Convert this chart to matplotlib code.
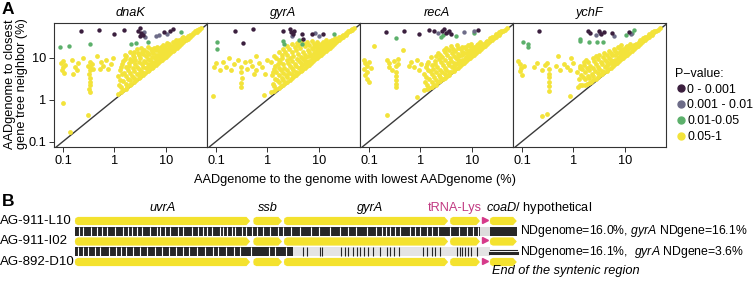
import matplotlib
matplotlib.use("Agg")
import matplotlib.pyplot as plt
import numpy as np
from matplotlib.lines import Line2D
from matplotlib.patches import Polygon, Rectangle

plt.rcParams["font.family"] = ["Liberation Sans", "DejaVu Sans"]
plt.rcParams["mathtext.fontset"] = "custom"
plt.rcParams["mathtext.rm"] = "Liberation Sans"
plt.rcParams["mathtext.it"] = "Liberation Sans:italic"

# ---------------- panel A data: (x, y) in % ----------------
PANELS = ["dnaK", "gyrA", "recA", "ychF"]
PVAL_LABELS = ["0 - 0.001", "0.001 - 0.01", "0.01-0.05", "0.05-1"]
PVAL_COLORS = ["#3b1f3e", "#6d6c88", "#5cb06b", "#f3e33a"]
TICKS = [0.1, 1, 10]
TICK_LABELS = ["0.1", "1", "10"]

dnak_p1 = [(0.22, 44), (0.51, 46), (1.0, 37), (1.55, 46), (2.9, 45), (3.1, 52), (3.3, 40),
           (3.6, 36), (3.2, 33), (9.3, 41), (14, 49), (12, 44)]
dnak_p2 = [(6.3, 33), (7.5, 36), (10.5, 38), (4.0, 31), (3.7, 41)]
dnak_p3 = [(0.086, 18), (0.134, 19), (0.34, 21.6), (2.14, 21.6), (2.6, 22.5), (4.4, 24), (20, 41)]
dnak_p4 = [(0.09, 7.5), (0.1, 6), (0.095, 5), (0.105, 4.3), (0.1, 8.3), (0.11, 6.8),
           (0.15, 9), (0.17, 6), (0.19, 5), (0.2, 7.5), (0.16, 4),
           (0.33, 8), (0.33, 6), (0.34, 5), (0.32, 4), (0.33, 3.3), (0.34, 2.7), (0.33, 2.2),
           (0.32, 1.8), (0.33, 1.5), (0.36, 7), (0.30, 6.5), (0.38, 5.5),
           (0.55, 8), (0.6, 6.5), (0.7, 9), (0.75, 5.5), (0.85, 7), (0.52, 5.5), (0.95, 10),
           (0.1, 0.85), (0.31, 0.42), (0.135, 0.17), (0.25, 10), (0.45, 11),
           (1.2, 1.4), (1.25, 2.3), (1.15, 3.6), (1.3, 5.2), (1.45, 1.7), (1.5, 2.8), (1.55, 4.4),
           (1.4, 7), (1.6, 9.5), (1.75, 2.0), (1.85, 3.1), (1.8, 5), (1.9, 7.5), (1.7, 11),
           (2.1, 2.4), (2.2, 3.6), (2.3, 5.6), (2.15, 8.5), (2.25, 12), (2.6, 2.9), (2.7, 4.1),
           (2.8, 6.2), (2.55, 9), (2.9, 13), (3.2, 3.5), (3.3, 4.9), (3.4, 7.1), (3.1, 10),
           (3.5, 14), (3.9, 4.3), (4.1, 5.6), (4.0, 7.8), (4.2, 11), (3.8, 15), (4.7, 5.1),
           (4.9, 6.6), (5.0, 8.8), (4.6, 12.5), (5.1, 16), (5.7, 6.2), (5.9, 7.6), (6.1, 9.8),
           (5.6, 13), (6.0, 17), (6.9, 7.5), (7.2, 9.1), (7.0, 11.5), (7.4, 14.5), (6.8, 18.5),
           (8.3, 9.0), (8.6, 10.6), (8.8, 13), (8.4, 16.5), (8.9, 20), (9.9, 10.7), (10.3, 12.6),
           (10.1, 15.2), (9.7, 19), (10.5, 23), (11.8, 12.8), (12.3, 15), (12.1, 18.3), (11.6, 22),
           (14.6, 15.8), (15.2, 18.2), (14.9, 21.5), (15.4, 26), (17.8, 19.4), (18.4, 22.3),
           (18.1, 27), (21.6, 23.3), (22.4, 27.5), (22, 32), (26.5, 28.7), (27.4, 33.5),
           (32.5, 35), (33.5, 40), (39.5, 42.5), (41, 47), (48, 51),
           (1.35, 1.55), (1.35, 2.0), (1.3, 3.0), (1.4, 4.0), (1.35, 6.0), (1.5, 8.2),
           (1.65, 1.85), (1.65, 2.4), (1.7, 3.6), (1.65, 6.2), (1.6, 12),
           (2.0, 2.2), (2.0, 2.9), (2.05, 4.3), (1.95, 6.5), (2.0, 9.5), (2.0, 13.5),
           (2.45, 2.7), (2.45, 3.3), (2.4, 4.8), (2.5, 7), (2.45, 10.5), (2.4, 14),
           (3.0, 3.25), (3.0, 4), (2.95, 5.3), (3.05, 8), (3.0, 11.5), (2.8, 16),
           (3.6, 3.9), (3.65, 4.4), (3.6, 6), (3.7, 8.6), (3.6, 12.5), (3.3, 17),
           (4.4, 4.75), (4.4, 6), (4.5, 7), (4.4, 9.5), (4.35, 13.5), (4.5, 18),
           (5.3, 5.7), (5.3, 7), (5.4, 8), (5.3, 10.7), (5.4, 14.5),
           (6.4, 6.9), (6.4, 8.3), (6.5, 10.5), (6.3, 12), (6.5, 15.5),
           (7.8, 8.4), (7.8, 9.8), (7.9, 12.3), (7.7, 15.5), (7.9, 18.5),
           (9.2, 9.9), (9.3, 11.5), (9.2, 13.8), (9.4, 17.5),
           (11, 11.8), (11, 13.6), (11.2, 16.5), (11, 20),
           (13.5, 14.4), (13.5, 16.5), (13.4, 19.5), (13.6, 23.5),
           (16.5, 17.6), (16.5, 20), (16.6, 24), (20, 21.3), (20, 24.5), (20.3, 29),
           (24.5, 26), (24.5, 30), (30, 31.8), (30, 36), (36, 38.5), (36.5, 43), (44, 46.5),
           (45, 50)]

gyra_p1 = [(0.23, 44), (0.53, 49), (0.34, 23), (2.05, 44.6), (2.7, 50), (2.9, 42), (3.1, 37),
           (3.3, 45), (4.6, 37), (5.0, 28), (7.5, 37), (12, 37)]
gyra_p2 = [(10, 33), (3.0, 33), (8.5, 40)]
gyra_p3 = [(0.107, 24), (0.107, 16), (2.05, 25.8), (2.1, 22), (4.2, 26), (4.6, 22), (20, 37)]
gyra_p4 = [(0.09, 6), (0.1, 7.5), (0.12, 5), (0.14, 8), (0.16, 6.2), (0.2, 5.2), (0.22, 7),
           (0.27, 9), (0.31, 6), (0.31, 4.5), (0.32, 3.3), (0.31, 2.5), (0.3, 2.0), (0.36, 7.8),
           (0.4, 5.5), (0.45, 8.5), (0.5, 6.5), (0.56, 4.2), (0.088, 1.2), (0.6, 5), (0.7, 7.5),
           (0.8, 6), (0.9, 4), (1.0, 9), (0.87, 1.27), (0.18, 10), (0.6, 11),
           (1.2, 1.5), (1.3, 2.4), (1.25, 3.8), (1.35, 5.5), (1.2, 8), (1.5, 1.8), (1.55, 3),
           (1.45, 4.6), (1.6, 7), (1.5, 10), (1.8, 2.1), (1.9, 3.3), (1.85, 5.2), (1.75, 8),
           (1.95, 12), (2.2, 2.5), (2.3, 3.8), (2.1, 5.8), (2.35, 9), (2.2, 14), (2.7, 3.0),
           (2.6, 4.4), (2.8, 6.5), (2.75, 10), (2.65, 16), (3.3, 3.6), (3.2, 5), (3.4, 7.3),
           (3.1, 11), (3.5, 18), (3.9, 4.3), (4.1, 5.8), (4.2, 8.2), (3.95, 12.5), (4.0, 20),
           (4.8, 5.2), (4.7, 6.8), (5.0, 9.2), (4.9, 14), (5.2, 22), (5.8, 6.3), (6.0, 7.9),
           (5.7, 10.5), (6.2, 15.5), (5.9, 24), (7.0, 7.6), (7.3, 9.5), (6.9, 12), (7.2, 17),
           (7.5, 25), (8.5, 9.2), (8.3, 11), (8.8, 14), (8.6, 19), (10.2, 11), (10.0, 13.5),
           (10.5, 16.5), (9.8, 21), (12.2, 13.2), (12.0, 16), (12.6, 19.5), (11.8, 24),
           (14.8, 16), (15.3, 19), (14.6, 23), (18, 19.5), (18.5, 23), (17.6, 27), (22, 24),
           (22.5, 28.5), (27, 29), (27.8, 33), (33, 35.5), (34, 40), (40, 43), (41.5, 47), (49, 52),
           (1.35, 1.6), (1.35, 2.1), (1.4, 3.2), (1.3, 4.6), (1.4, 6.5), (1.35, 11),
           (1.65, 1.9), (1.7, 2.6), (1.65, 3.8), (1.7, 5.8), (1.65, 9), (1.7, 14),
           (2.0, 2.2), (2.0, 2.9), (2.05, 4.3), (2.0, 7), (1.95, 10), (2.05, 16),
           (2.45, 2.7), (2.45, 3.4), (2.4, 5), (2.5, 7.5), (2.45, 12), (2.4, 19),
           (3.0, 3.3), (3.0, 4.1), (2.95, 5.8), (3.05, 8.5), (3.0, 13.5), (3.0, 21),
           (3.6, 3.9), (3.65, 4.6), (3.6, 6.5), (3.7, 9.5), (3.6, 15), (3.7, 23),
           (4.4, 4.75), (4.4, 6.2), (4.5, 7.5), (4.4, 10.5), (4.35, 17), (4.5, 25),
           (5.3, 5.7), (5.3, 7.3), (5.4, 8.5), (5.3, 12), (5.4, 19),
           (6.4, 6.9), (6.4, 8.6), (6.5, 11), (6.3, 13.5), (6.5, 20),
           (7.8, 8.4), (7.8, 10), (7.9, 13), (7.7, 16), (7.9, 22),
           (9.2, 9.9), (9.3, 12), (9.2, 15), (9.4, 18.5), (9.2, 24),
           (11, 11.8), (11, 14.5), (11.2, 18), (11, 22), (13.5, 14.4), (13.5, 17.5),
           (13.4, 21), (13.6, 26), (16.5, 17.6), (16.5, 21), (16.6, 25), (20, 21.3), (20, 25),
           (20.3, 30), (24.5, 26), (24.5, 31), (30, 31.8), (30, 36), (36, 38.5), (36.5, 43),
           (44, 46.5), (45, 50)]

reca_p1 = [(0.21, 41), (0.49, 43), (0.96, 38), (1.5, 46), (1.8, 44), (2.6, 44), (2.9, 48),
           (3.2, 40), (3.6, 43), (4.0, 37), (13, 46)]
reca_p2 = [(3.5, 41), (7.1, 41), (11, 43), (2.2, 40)]
reca_p3 = [(0.34, 29), (2.56, 31), (5.0, 33), (11, 39), (2.7, 36)]
reca_p4 = [(0.08, 9), (0.085, 7.5), (0.09, 6.5), (0.08, 5.5), (0.09, 4.6), (0.085, 3.8),
           (0.09, 3.1), (0.1, 2.7), (0.1, 8), (0.11, 5.8),
           (0.22, 9), (0.25, 7.5), (0.24, 6), (0.28, 5), (0.3, 8.5), (0.33, 6.5), (0.33, 4.5),
           (0.33, 3.6), (0.33, 2.9), (0.33, 2.4), (0.33, 2.0), (0.37, 7), (0.36, 9.5),
           (0.67, 8), (0.75, 6), (0.85, 9), (0.95, 5), (1.05, 7), (0.128, 19), (0.46, 15),
           (0.84, 1.18), (0.22, 0.42), (0.6, 6.5),
           (1.15, 1.7), (1.25, 2.6), (1.2, 4), (1.3, 6), (1.45, 1.9), (1.5, 3.1), (1.55, 4.8),
           (1.4, 8), (1.8, 2.2), (1.85, 3.4), (1.75, 5.4), (1.9, 8.5), (2.2, 2.6), (2.25, 3.9),
           (2.1, 6), (2.3, 9.5), (2.2, 13), (2.7, 3.1), (2.6, 4.6), (2.8, 6.8), (2.65, 10.5),
           (2.9, 15), (3.3, 3.7), (3.2, 5.2), (3.45, 7.6), (3.3, 11.5), (3.1, 17), (4.0, 4.5),
           (4.1, 6.1), (3.9, 8.6), (4.2, 13), (4.0, 19), (4.8, 5.3), (4.9, 7.1), (5.0, 9.8),
           (4.7, 14.5), (5.1, 20), (5.8, 6.4), (6.0, 8.2), (5.7, 11), (6.1, 16), (7.0, 7.7),
           (7.3, 9.6), (6.9, 12.8), (7.2, 18), (8.5, 9.3), (8.3, 11.2), (8.8, 14.2), (8.6, 20),
           (10.2, 11.1), (10.0, 13.5), (10.5, 17), (9.8, 22), (12.2, 13.3), (12.0, 16.2),
           (12.6, 20.5), (14.8, 16), (15.3, 19.5), (14.6, 24), (18, 19.6), (18.5, 23.5),
           (22, 24), (22.5, 29), (27, 29.2), (27.8, 34), (33, 35.5), (34, 41), (40, 43), (48, 51),
           (1.35, 1.8), (1.35, 2.2), (1.3, 3.4), (1.4, 5), (1.35, 7),
           (1.65, 2.0), (1.65, 2.6), (1.7, 4), (1.65, 6.8), (1.6, 10.5),
           (2.0, 2.3), (2.0, 3.0), (2.05, 4.6), (1.95, 7), (2.0, 11),
           (2.45, 2.75), (2.45, 3.4), (2.4, 5.2), (2.5, 8), (2.45, 12),
           (3.0, 3.3), (3.0, 4.2), (2.95, 5.8), (3.05, 8.8), (3.0, 13.5),
           (3.6, 3.95), (3.65, 4.7), (3.6, 6.6), (3.7, 9.8), (3.6, 15.5),
           (4.4, 4.8), (4.4, 6.3), (4.5, 7.6), (4.4, 11), (4.35, 16.5),
           (5.3, 5.75), (5.3, 7.4), (5.4, 8.8), (5.3, 12.5), (5.4, 17.5),
           (6.4, 6.95), (6.4, 8.8), (6.5, 11.5), (6.3, 14), (6.5, 18.5),
           (7.8, 8.45), (7.8, 10.2), (7.9, 13.3), (7.7, 16.5), (9.2, 9.95), (9.3, 12.2),
           (9.2, 15.5), (9.4, 19), (11, 11.8), (11, 14.5), (11.2, 18.5), (13.5, 14.5),
           (13.5, 17.5), (13.4, 21.5), (16.5, 17.7), (16.5, 21), (20, 21.4), (20, 25.5),
           (24.5, 26), (24.5, 31), (30, 31.8), (30, 37), (36, 38.5), (36.5, 44), (44, 46.5)]

ychf_p1 = [(0.21, 43), (1.95, 45), (2.1, 40), (3.1, 43), (3.5, 38), (3.9, 41), (5.5, 40),
           (12, 42)]
ychf_p2 = [(2.7, 36), (3.3, 40), (6.2, 34), (13, 38)]
ychf_p3 = [(0.107, 24), (0.134, 22), (0.134, 18), (1.37, 28), (1.37, 25), (2.0, 24),
           (2.9, 24), (3.8, 24), (10.7, 36), (13.5, 40), (15, 46)]
ychf_p4 = [(0.085, 8.5), (0.09, 7), (0.095, 5.8), (0.09, 4.8), (0.1, 3.9), (0.11, 6.5),
           (0.17, 6), (0.2, 7.5), (0.24, 5.2), (0.28, 6.8), (0.3, 7.7), (0.33, 5.5), (0.33, 4.2),
           (0.34, 3.4), (0.33, 2.7), (0.33, 2.1), (0.34, 1.6), (0.45, 6.5), (0.55, 5.2),
           (0.65, 7), (0.75, 6), (0.85, 5), (1.0, 7.5), (0.84, 1.2), (0.24, 0.4), (0.3, 0.45),
           (0.5, 11), (0.9, 10),
           (1.25, 2.0), (1.3, 3.1), (1.2, 4.6), (1.35, 6.5), (1.5, 2.2), (1.55, 3.5), (1.45, 5.4),
           (1.6, 8), (1.8, 2.4), (1.9, 3.7), (1.85, 5.8), (1.75, 9), (2.2, 2.7), (2.3, 4.2),
           (2.1, 6.5), (2.35, 10), (2.7, 3.2), (2.6, 4.8), (2.8, 7), (2.75, 11), (3.3, 3.8),
           (3.2, 5.4), (3.4, 8), (3.1, 12), (3.9, 4.5), (4.1, 6.2), (4.2, 9), (3.95, 13),
           (4.8, 5.4), (4.7, 7.2), (5.0, 10), (4.9, 14.5), (5.8, 6.4), (6.0, 8.3), (5.7, 11.5),
           (6.2, 16), (7.0, 7.7), (7.3, 9.8), (6.9, 13), (7.2, 18), (8.5, 9.3), (8.3, 11.5),
           (8.8, 15), (8.6, 20), (10.2, 11.2), (10.0, 14), (10.5, 18), (12.2, 13.3), (12.0, 17),
           (12.6, 22), (14.8, 16.2), (15.3, 20), (18, 19.6), (18.5, 24), (22, 24), (22.5, 29),
           (27, 29.3), (27.8, 34), (33, 35.6), (34, 41), (40, 43), (48, 51),
           (1.35, 2.3), (1.4, 3.9), (1.35, 5.6), (1.65, 2.3), (1.7, 3.1), (1.65, 4.6),
           (1.6, 6.8), (2.0, 2.5), (2.0, 3.3), (2.05, 5), (1.95, 7.8), (2.45, 2.9), (2.45, 3.7),
           (2.4, 5.6), (2.5, 8.5), (3.0, 3.4), (3.0, 4.4), (2.95, 6.2), (3.05, 9.5), (3.6, 4.0),
           (3.65, 4.9), (3.6, 7), (3.7, 10.5), (4.4, 4.85), (4.4, 6.6), (4.5, 8), (4.4, 11.5),
           (5.3, 5.8), (5.3, 7.6), (5.4, 9), (5.3, 13), (6.4, 7.0), (6.4, 9), (6.5, 11.8),
           (6.3, 14.5), (7.8, 8.5), (7.8, 10.5), (7.9, 13.5), (7.7, 17), (9.2, 10), (9.3, 12.5),
           (9.2, 16), (11, 11.9), (11, 15), (11.2, 19.5), (13.5, 14.5), (13.5, 18), (16.5, 17.8),
           (16.5, 22), (20, 21.5), (20, 26), (24.5, 26.2), (24.5, 31.5), (30, 32), (30, 37),
           (36, 38.7), (36.5, 44), (44, 46.5)]

panel_points = {
    "dnaK": [dnak_p1, dnak_p2, dnak_p3, dnak_p4],
    "gyrA": [gyra_p1, gyra_p2, gyra_p3, gyra_p4],
    "recA": [reca_p1, reca_p2, reca_p3, reca_p4],
    "ychF": [ychf_p1, ychf_p2, ychf_p3, ychf_p4],
}

# ---------------- panel B data: positions in kb ----------------
ROW_LABELS = ["AG-911-L10", "AG-911-I02", "AG-892-D10"]
GENE_NAMES = ["uvrA", "ssb", "gyrA", "", "coaD"]
GENE_START = [0.03, 2.94, 3.44, 6.15, 6.80]
GENE_END = [2.89, 3.41, 6.12, 6.64, 7.24]
TRNA_POS = 6.72
ALIGN_END = 7.24
# strip 1 (L10 vs I02): mismatch positions (white)
strip1_mism = [0.09, 0.17, 0.30, 0.39, 0.47, 0.55, 0.69, 0.82, 0.90, 0.96, 1.05, 1.12, 1.25,
               1.37, 1.42, 1.50, 1.58, 1.72, 1.80, 1.94, 2.04, 2.12, 2.18, 2.26, 2.40, 2.45,
               2.51, 2.59, 2.64, 2.75, 2.83, 2.92, 3.00, 3.10, 3.22, 3.35, 3.42, 3.55, 3.70,
               3.88, 4.02, 4.20, 4.35, 4.48, 4.62, 4.80, 4.95, 5.04, 5.10, 5.17, 5.25, 5.33,
               5.50, 5.58, 5.66, 5.78, 5.85, 5.95, 6.15, 6.30, 6.42, 6.52, 6.60]
strip1_gap = (6.64, 6.80)
# strip 2 (I02 vs D10): dark part mismatches, then divergent part with matching sites (dark)
strip2_dark_end = 3.59
strip2_mism = [0.08, 0.16, 0.24, 0.36, 0.44, 0.58, 0.70, 0.78, 0.86, 0.98, 1.10, 1.20, 1.33,
               1.45, 1.56, 1.68, 1.79, 1.90, 2.02, 2.15, 2.28, 2.36, 2.50, 2.62, 2.73, 2.90,
               3.20, 3.30, 3.47]
strip2_match = [3.75, 3.81, 4.03, 4.06, 4.38, 4.44, 4.49, 4.57, 4.63, 4.68, 4.74, 4.82, 4.90,
                5.01, 5.12, 5.17, 5.23, 5.31, 5.71, 5.77, 5.85, 5.91, 5.99, 6.26, 6.31, 6.34,
                6.39, 6.45, 6.50, 6.59]
ND_LABELS = [r"NDgenome=16.0%, $\it{gyrA}$ NDgene=16.1%",
             r"NDgenome=16.1%,  $\it{gyrA}$ NDgene=3.6%"]

W, H = 755, 281
fig = plt.figure(figsize=(W / 100, H / 100), dpi=100)

FS = 9.2
lefts = [54, 207, 360, 513]
for i, name in enumerate(PANELS):
    ax = fig.add_axes([lefts[i] / W, 1 - 147 / H, 153 / W, 124 / H])
    ax.set_xscale("log")
    ax.set_yscale("log")
    ax.set_xlim(0.067, 63)
    ax.set_ylim(0.074, 68)
    ax.axline((1, 1), (10, 10), color="#3a3a3a", lw=1.0, zorder=2)
    groups = panel_points[name]
    for k in [3, 2, 1, 0]:
        pts = np.array(groups[k], dtype=float)
        ax.scatter(pts[:, 0], pts[:, 1], s=12 if k == 3 else 10, color=PVAL_COLORS[k],
                   linewidths=0, zorder=3 + (3 - k))
    ax.set_xticks(TICKS)
    ax.set_xticklabels(TICK_LABELS, fontsize=FS)
    ax.minorticks_off()
    if i == 0:
        ax.set_yticks(TICKS)
        ax.set_yticklabels(TICK_LABELS, fontsize=FS)
    else:
        ax.set_yticks([])
    ax.tick_params(length=3.5, width=0.7, pad=2, color="#333333")
    for sp in ax.spines.values():
        sp.set_linewidth(0.8)
        sp.set_color("#333333")
    ax.set_title(name, fontsize=FS, style="italic", pad=5)

fig.text(355 / W, 1 - 180 / H, "AADgenome to the genome with lowest AADgenome (%)",
         ha="center", va="center", fontsize=FS)
fig.text(16 / W, 1 - 84 / H, "AADgenome to closest\ngene tree neighbor (%)",
         ha="center", va="center", rotation=90, fontsize=FS, linespacing=0.95)
fig.text(2 / W, 1 - 9 / H, "A", fontsize=12.5, weight="bold", ha="left", va="center")

handles = [Line2D([], [], marker="o", ls="", color=c, markersize=5) for c in PVAL_COLORS]
fig.legend(handles, PVAL_LABELS, title="P\u2212value:", loc="upper left",
           bbox_to_anchor=(675 / W, 1 - 68 / H), frameon=False, fontsize=8.9,
           title_fontsize=8.9, handletextpad=0.0, handlelength=1.0, borderpad=0,
           labelspacing=0.3, alignment="left", borderaxespad=0)

# ---------------- panel B ----------------
axb = fig.add_axes([0, 0, 1, 85 / H])
axb.set_xlim(-73 / 61.3, (W - 73) / 61.3)
axb.set_ylim((281 - 221) / 20.5, (196 - 221) / 20.5)
axb.axis("off")

GENE_COLOR = "#f4e22e"
h = 0.2
for row in range(3):
    for s, e in zip(GENE_START, GENE_END):
        poly = [(s + 0.05, row - h), (e - 0.06, row - h), (e, row), (e - 0.06, row + h),
                (s + 0.05, row + h), (s + 0.01, row + h * 0.7), (s, row),
                (s + 0.01, row - h * 0.7)]
        axb.add_patch(Polygon(poly, closed=True, facecolor=GENE_COLOR, edgecolor="none"))
    axb.plot([TRNA_POS], [row - 0.05], marker=">", color="#d63a8a", markersize=4.5, ls="")
    axb.text(-73 / 61.3, row, ROW_LABELS[row], ha="left", va="center", fontsize=FS + 0.3)

sh = 0.21
DARK = "#272727"
# strip 1
axb.add_patch(Rectangle((0.03, 0.5 - sh), strip1_gap[0] - 0.03, 2 * sh, facecolor=DARK, lw=0))
axb.add_patch(Rectangle((strip1_gap[0], 0.5 - sh), strip1_gap[1] - strip1_gap[0], 2 * sh,
                        facecolor="#dcdcdc", lw=0))
axb.add_patch(Rectangle((strip1_gap[1], 0.5 - sh), ALIGN_END - strip1_gap[1], 2 * sh,
                        facecolor=DARK, lw=0))
axb.vlines(strip1_mism, 0.5 - sh, 0.5 + sh, color="white", lw=0.8)
# strip 2
axb.add_patch(Rectangle((0.03, 1.5 - sh), strip2_dark_end - 0.03, 2 * sh, facecolor=DARK, lw=0))
axb.add_patch(Rectangle((strip2_dark_end, 1.5 - sh), GENE_START[4] - strip2_dark_end, 2 * sh,
                        facecolor="#e4e4e4", lw=0))
axb.vlines(strip2_mism, 1.5 - sh, 1.5 + sh, color="white", lw=0.8)
axb.vlines(strip2_match, 1.5 - sh, 1.5 + sh, color=DARK, lw=0.8)
axb.plot([GENE_START[4], ALIGN_END], [1.42, 1.42], color=DARK, lw=0.8)
axb.plot([GENE_START[4], ALIGN_END], [1.56, 1.56], color=DARK, lw=2.2)

# labels
lab_y = (208 - 221) / 20.5
for name, s, e in zip(GENE_NAMES[:3], GENE_START[:3], GENE_END[:3]):
    axb.text((s + e) / 2 if name != "gyrA" else 4.84, lab_y, name, ha="center", va="center",
             fontsize=FS, style="italic")
axb.text(6.23, lab_y, "tRNA-Lys", ha="center", va="center", fontsize=FS, color="#c13a82")
axb.text(6.74, lab_y, r"$\it{coaD/}$ hypothetical", ha="left", va="center", fontsize=FS)
for j, lab in enumerate(ND_LABELS):
    axb.text(7.30, 0.5 + j, lab, ha="left", va="center", fontsize=8.8)
axb.text(6.84, (271 - 221) / 20.5, "End of the syntenic region", ha="left", va="center",
         fontsize=FS, style="italic")
axb.text(-71 / 61.3, (202 - 221) / 20.5, "B", fontsize=12.5, weight="bold", ha="left",
         va="center")

fig.savefig("out.png", dpi=100)
